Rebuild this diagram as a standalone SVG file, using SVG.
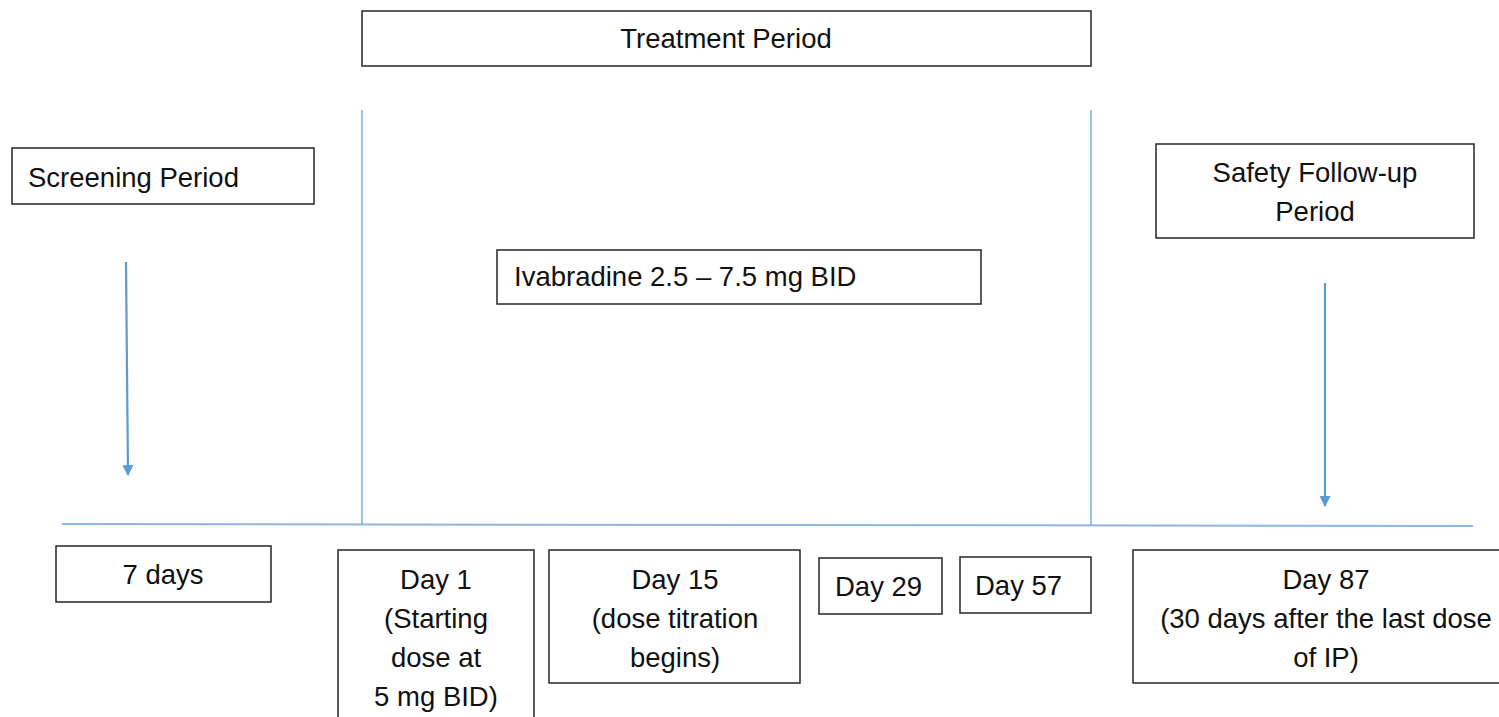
<svg xmlns="http://www.w3.org/2000/svg" width="1499" height="717" viewBox="0 0 1499 717">
<defs>
<style>
.box{fill:#fff;stroke:#262626;stroke-width:1.5}
.t{font-family:"Liberation Sans",Arial,sans-serif;font-size:27.5px;fill:#111}
.c{text-anchor:middle}
.blue{stroke:#5B9BD5;fill:none}
</style>
<marker id="ah" viewBox="0 0 10 10" refX="9" refY="5" markerWidth="5.5" markerHeight="5" markerUnits="strokeWidth" orient="auto">
<path d="M0,0 L10,5 L0,10 z" fill="#5B9BD5"/>
</marker>
</defs>
<rect width="1499" height="717" fill="#fff"/>
<g id="connectors">
<line x1="62" y1="524" x2="1473" y2="526" stroke="#8FB5E0" stroke-width="2" fill="none"/>
<line class="blue" x1="362" y1="110" x2="362" y2="524" stroke-width="1.2"/>
<line class="blue" x1="1091" y1="110" x2="1091" y2="525" stroke-width="1.2"/>
<line class="blue" x1="126" y1="262" x2="128" y2="475" stroke-width="2.2" marker-end="url(#ah)"/>
<line class="blue" x1="1325" y1="283" x2="1325" y2="506" stroke-width="2.2" marker-end="url(#ah)"/>
</g>
<g id="treatment">
<rect class="box" x="362" y="11" width="729" height="55"/>
<text class="t c" x="726" y="48">Treatment Period</text>
</g>
<g id="screening">
<rect class="box" x="12" y="148" width="302" height="56"/>
<text class="t" x="28" y="187">Screening Period</text>
</g>
<g id="safety">
<rect class="box" x="1156" y="144" width="318" height="94"/>
<text class="t c" x="1315" y="182">Safety Follow-up</text>
<text class="t c" x="1315" y="221">Period</text>
</g>
<g id="ivabradine">
<rect class="box" x="497" y="250" width="484" height="54"/>
<text class="t" x="514" y="286">Ivabradine 2.5 – 7.5 mg BID</text>
</g>
<g id="days7">
<rect class="box" x="56" y="546" width="215" height="56"/>
<text class="t c" x="163" y="584">7 days</text>
</g>
<g id="day1">
<rect class="box" x="338" y="550" width="196" height="180"/>
<text class="t c" x="436" y="589">Day 1</text>
<text class="t c" x="436" y="628">(Starting</text>
<text class="t c" x="436" y="667">dose at</text>
<text class="t c" x="436" y="706">5 mg BID)</text>
</g>
<g id="day15">
<rect class="box" x="549" y="550" width="251" height="133"/>
<text class="t c" x="675" y="589">Day 15</text>
<text class="t c" x="675" y="628">(dose titration</text>
<text class="t c" x="675" y="667">begins)</text>
</g>
<g id="day29">
<rect class="box" x="819" y="558" width="123" height="56"/>
<text class="t" x="835" y="596">Day 29</text>
</g>
<g id="day57">
<rect class="box" x="960" y="557" width="131" height="56"/>
<text class="t" x="975" y="595">Day 57</text>
</g>
<g id="day87">
<rect class="box" x="1133" y="550" width="380" height="133"/>
<text class="t c" x="1326" y="589">Day 87</text>
<text class="t c" x="1326" y="628">(30 days after the last dose</text>
<text class="t c" x="1326" y="667">of IP)</text>
</g>
</svg>
